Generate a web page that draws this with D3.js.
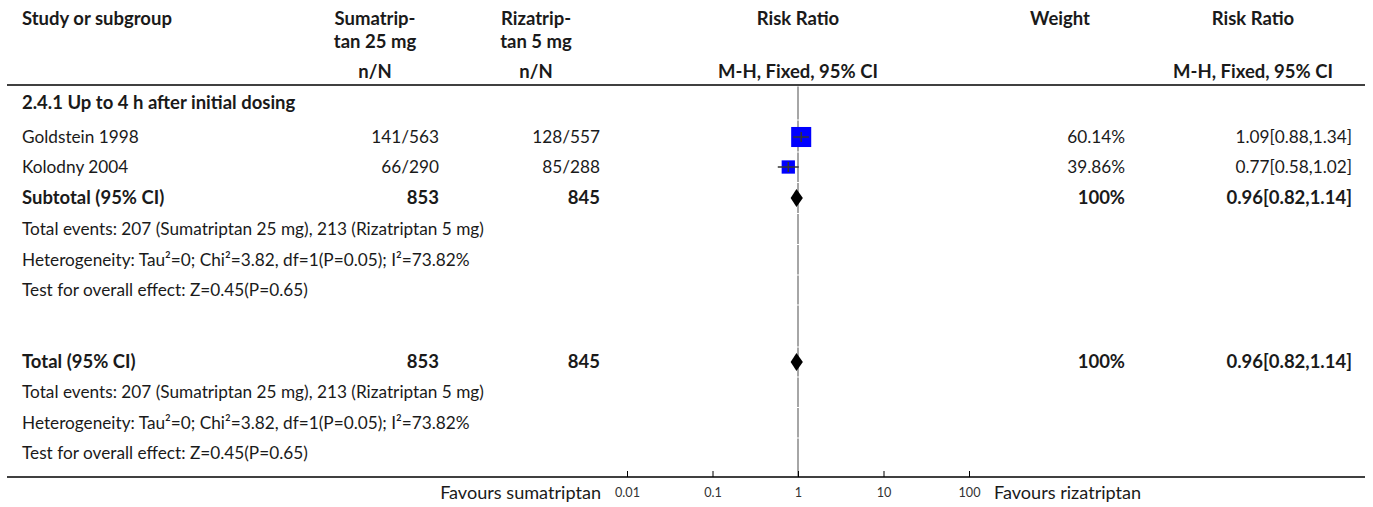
<!DOCTYPE html>
<html>
<head>
<meta charset="utf-8">
<script src="https://cdn.jsdelivr.net/npm/d3@7"></script>
<style>
  html, body { margin: 0; padding: 0; background: #fff; }
  svg { display: block; }
</style>
</head>
<body>
<svg id="chart" width="1373" height="507"></svg>
<script>
// ---------------- DATA ----------------
const studies      = ["Goldstein 1998", "Kolodny 2004"];
const sumaEvents   = [141, 66];
const sumaTotals   = [563, 290];
const rizaEvents   = [128, 85];
const rizaTotals   = [557, 288];
const riskRatios   = [1.09, 0.77];
const ciLower      = [0.88, 0.58];
const ciUpper      = [1.34, 1.02];
const weights      = [60.14, 39.86];

const subgroupTitle = "2.4.1 Up to 4 h after initial dosing";
const pooled        = { rr: 0.96, lo: 0.82, hi: 1.14, nSuma: 853, nRiza: 845, weight: "100%", label: "0.96[0.82,1.14]" };
const statLines     = [
  "Total events: 207 (Sumatriptan 25 mg), 213 (Rizatriptan 5 mg)",
  "Heterogeneity: Tau\u00B2=0; Chi\u00B2=3.82, df=1(P=0.05); I\u00B2=73.82%",
  "Test for overall effect: Z=0.45(P=0.65)"
];
const axisTicks      = [0.01, 0.1, 1, 10, 100];
const axisTickLabels = ["0.01", "0.1", "1", "10", "100"];
const favoursLeft    = "Favours sumatriptan";
const favoursRight   = "Favours rizatriptan";

// ---------------- LAYOUT ----------------
const FONT = "Lato, 'Noto Sans', sans-serif";
const svg = d3.select("#chart");
const TXT = "#1a1a1a";

function fitSize(text, weight, target) {
  const t = svg.append("text").attr("font-family", FONT).attr("font-weight", weight)
    .attr("font-size", 100).text(text);
  const w = t.node().getComputedTextLength();
  t.remove();
  return 100 * target / w;
}
const fsNormal = fitSize(statLines[1], "normal", 448);
const fsBold   = fitSize("Study or subgroup", "bold", 150);
const fsTick   = fitSize("100", "normal", 22);
const fsFav    = fitSize(favoursLeft, "normal", 161);

const xStudy = 22, xSumC = 375, xSumR = 439, xRizC = 536, xRizR = 600;
const xWC = 1060, xWR = 1125, xRRC = 1253, xRRR = 1352;
const lineL = 7, lineR = 1365;
const headerLineY = 85, axisY = 477;

const x = d3.scaleLog().domain([0.01, 100]).range([627, 969]);

function txt(xp, yp, s, opts = {}) {
  return svg.append("text")
    .attr("x", xp).attr("y", yp).attr("dy", "0.35em")
    .attr("font-family", FONT)
    .attr("font-size", opts.bold ? fsBold : (opts.size || fsNormal))
    .attr("font-weight", opts.bold ? "bold" : "normal")
    .attr("text-anchor", opts.anchor || "start")
    .attr("fill", opts.fill || TXT)
    .text(s);
}

// ---------------- HEADER ----------------
txt(xStudy, 19, "Study or subgroup", { bold: true });
txt(xSumC, 19, "Sumatrip-", { bold: true, anchor: "middle" });
txt(xSumC, 42, "tan 25 mg", { bold: true, anchor: "middle" });
txt(xSumC, 72, "n/N", { bold: true, anchor: "middle" });
txt(xRizC, 19, "Rizatrip-", { bold: true, anchor: "middle" });
txt(xRizC, 42, "tan 5 mg", { bold: true, anchor: "middle" });
txt(xRizC, 72, "n/N", { bold: true, anchor: "middle" });
txt(x(1), 19, "Risk Ratio", { bold: true, anchor: "middle" });
txt(x(1), 72, "M-H, Fixed, 95% CI", { bold: true, anchor: "middle" });
txt(xWC, 19, "Weight", { bold: true, anchor: "middle" });
txt(xRRC, 19, "Risk Ratio", { bold: true, anchor: "middle" });
txt(xRRC, 72, "M-H, Fixed, 95% CI", { bold: true, anchor: "middle" });

svg.append("line").attr("x1", lineL).attr("x2", lineR)
  .attr("y1", headerLineY).attr("y2", headerLineY)
  .attr("stroke", "#000").attr("stroke-width", 1.5);

// ---------------- ROW POSITIONS ----------------
const yGroup = 103;
const yStudies = [137, 167];
const ySub = 198;
const yStats1 = [229, 260, 290];
const yTotal = 362;
const yStats2 = [392, 423, 453];

// null line (segmented per row)
const rowCenters = [yGroup, ...yStudies, ySub, ...yStats1, yTotal, ...yStats2];
const bounds = [headerLineY + 1];
for (let i = 0; i < rowCenters.length - 1; i++) {
  if (rowCenters[i + 1] - rowCenters[i] > 50) { bounds.push(rowCenters[i] + 15); bounds.push(rowCenters[i + 1] - 15); }
  else bounds.push((rowCenters[i] + rowCenters[i + 1]) / 2);
}
bounds.push(axisY);
for (let i = 0; i < bounds.length - 1; i++) {
  svg.append("line").attr("x1", x(1)).attr("x2", x(1))
    .attr("y1", bounds[i] + 0.5).attr("y2", bounds[i + 1] - 0.5)
    .attr("stroke", "#a6a6a6").attr("stroke-width", 2);
}

// ---------------- BODY ----------------
txt(xStudy, yGroup, subgroupTitle, { bold: true });

studies.forEach((s, i) => {
  const y = yStudies[i];
  txt(xStudy, y, s);
  txt(xSumR, y, `${sumaEvents[i]}/${sumaTotals[i]}`, { anchor: "end" });
  txt(xRizR, y, `${rizaEvents[i]}/${rizaTotals[i]}`, { anchor: "end" });
  txt(xWR, y, `${weights[i].toFixed(2)}%`, { anchor: "end" });
  txt(xRRR, y, `${riskRatios[i].toFixed(2)}[${ciLower[i].toFixed(2)},${ciUpper[i].toFixed(2)}]`, { anchor: "end" });

  const side = weights[i] / 3;
  svg.append("rect")
    .attr("x", x(riskRatios[i]) - side / 2).attr("y", y - side / 2)
    .attr("width", side).attr("height", side)
    .attr("fill", "#0000ff");
  svg.append("line")
    .attr("x1", x(ciLower[i])).attr("x2", x(ciUpper[i]))
    .attr("y1", y).attr("y2", y)
    .attr("stroke", "#333").attr("stroke-width", 1.5);
  svg.append("line")
    .attr("x1", x(riskRatios[i])).attr("x2", x(riskRatios[i]))
    .attr("y1", y - 5).attr("y2", y + 5)
    .attr("stroke", "#333").attr("stroke-width", 1.5);
});

function diamond(y) {
  const p = [[x(pooled.lo), y], [x(pooled.rr), y - 9], [x(pooled.hi), y], [x(pooled.rr), y + 9]];
  svg.append("path").attr("d", d3.line()(p) + "Z").attr("fill", "#000");
}

function totalRow(y, label) {
  txt(xStudy, y, label, { bold: true });
  txt(xSumR, y, pooled.nSuma, { bold: true, anchor: "end" });
  txt(xRizR, y, pooled.nRiza, { bold: true, anchor: "end" });
  txt(xWR, y, pooled.weight, { bold: true, anchor: "end" });
  txt(xRRR, y, pooled.label, { bold: true, anchor: "end" });
  diamond(y);
}
totalRow(ySub, "Subtotal (95% CI)");
statLines.forEach((s, i) => txt(xStudy, yStats1[i], s));
totalRow(yTotal, "Total (95% CI)");
statLines.forEach((s, i) => txt(xStudy, yStats2[i], s));

// ---------------- AXIS ----------------
svg.append("line").attr("x1", lineL).attr("x2", lineR)
  .attr("y1", axisY).attr("y2", axisY)
  .attr("stroke", "#000").attr("stroke-width", 1.5);

const axis = d3.axisBottom(x)
  .tickValues(axisTicks)
  .tickFormat((d, i) => axisTickLabels[i])
  .tickSizeInner(-6).tickSizeOuter(0).tickPadding(10);
const gAxis = svg.append("g").attr("transform", `translate(0,${axisY})`).call(axis);
gAxis.select(".domain").remove();
gAxis.selectAll(".tick line").attr("stroke", "#000").attr("stroke-width", 1);
gAxis.selectAll(".tick text")
  .attr("font-family", FONT).attr("font-size", fsTick).attr("fill", "#333")
  .attr("y", 16).attr("dy", "0.35em");

txt(601, 493, favoursLeft, { anchor: "end", size: fsFav });
txt(994, 493, favoursRight, { anchor: "start", size: fsFav });
</script>
</body>
</html>
